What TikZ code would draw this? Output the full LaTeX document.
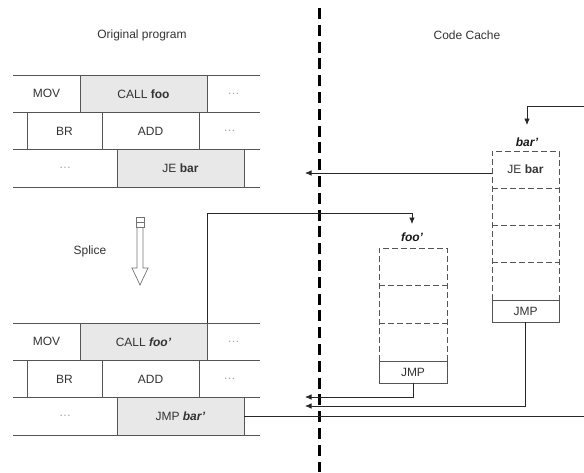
\documentclass[tikz,border=0pt]{standalone}
\usepackage{fontspec}
\setmainfont{Liberation Sans}
\usetikzlibrary{arrows.meta,calc}
\definecolor{cellgray}{HTML}{E8E8E8}
\definecolor{ln}{HTML}{555555}
\definecolor{tx}{HTML}{333333}
\definecolor{dots}{HTML}{A0A0A0}
\newcommand\progtable[4]{%
  % #1 top y, #2 prefix, #3 call text, #4 jump text
  \node[cell,minimum width=67pt,minimum height=37.5pt] (#2mov) at (13,#1) {MOV};
  \node[cell,fill=cellgray,minimum width=127pt,minimum height=37.5pt] (#2call) at (80,#1) {#3};
  \node[cell,minimum width=53pt,minimum height=37.5pt,text=dots] (#2d1) at (207,#1) {…};
  \node[cell,minimum width=14pt,minimum height=37pt] (#2e1) at (13,{#1+37.5}) {};
  \node[cell,minimum width=75pt,minimum height=37pt] (#2br) at (27,{#1+37.5}) {BR};
  \node[cell,minimum width=97pt,minimum height=37pt] (#2add) at (102,{#1+37.5}) {ADD};
  \node[cell,minimum width=61pt,minimum height=37pt,text=dots] (#2d2) at (199,{#1+37.5}) {…};
  \node[cell,minimum width=104pt,minimum height=37.5pt,text=dots] (#2d3) at (13,{#1+74.5}) {…};
  \node[cell,fill=cellgray,minimum width=127pt,minimum height=37.5pt] (#2je) at (117,{#1+74.5}) {#4};
  \node[cell,minimum width=16pt,minimum height=37.5pt] (#2e3) at (244,{#1+74.5}) {};
  \draw[tl] (#2mov.north west) -- (#2d1.north east);
  \draw[tl] (#2mov.south west) -- (#2d1.south east);
  \draw[tl] (#2e1.south west) -- (#2d2.south east);
  \draw[tl] (#2d3.south west) -- (#2e3.south east);
  \draw[tl] (#2call.north west) -- (#2call.south west);
  \draw[tl] (#2call.north east) -- (#2call.south east);
  \draw[tl] (#2br.north west) -- (#2br.south west);
  \draw[tl] (#2add.north west) -- (#2add.south west);
  \draw[tl] (#2d2.north west) -- (#2d2.south west);
  \draw[tl] (#2je.north west) -- (#2je.south west);
  \draw[tl] (#2je.north east) -- (#2je.south east);
}
\begin{document}
\begin{tikzpicture}[x=1pt,y=-1pt,
  font=\fontsize{12}{14}\selectfont,
  cell/.style={inner sep=0pt,outer sep=0pt,text=tx,anchor=north west},
  tl/.style={draw=ln,line width=0.8pt},
  dsh/.style={draw=ln,line width=0.8pt,dash pattern=on 6pt off 3pt},
  conn/.style={draw=black!85,line width=0.8pt},
  arr/.style={conn,-{Latex[length=6.5pt,width=5.5pt]}},
  lbl/.style={font=\fontsize{12}{14}\selectfont\bfseries\itshape,text=black!90,inner sep=0pt}]
\useasboundingbox (0,0) rectangle (584,472);

% titles
\node[text=tx] (t1) at (142,35) {Original program};
\node[text=tx] (t2) at (467,35) {Code Cache};

% divider
\draw[line width=3pt,dash pattern=on 11pt off 5.8pt] (319,8) -- (319,472);

% tables
\progtable{75}{a}{CALL \textbf{foo}}{JE \textbf{bar}}
\progtable{323}{b}{CALL \textbf{\textit{foo’}}}{JMP \textbf{\textit{bar’}}}

% splice arrow
\node[text=tx] (splice) at (90,251) {Splice};
\draw[draw=black!55,line width=0.7pt] (136,217) rectangle (144,227);
\draw[draw=black!55,line width=0.7pt] (136,222) -- (144,222);
\draw[draw=black!55,line width=0.7pt,line join=miter] (137,227) -- (137,268) -- (132,268) -- (140,285) -- (148,268) -- (143,268) -- (143,227);

% bar' block
\node[lbl] (barl) at (527,142) {bar’};
\node[cell,minimum width=67pt,minimum height=37pt] (bJE) at (492,151) {JE \textbf{bar}};
\node[cell,minimum width=67pt,minimum height=37pt] (b2) at (492,188) {};
\node[cell,minimum width=67pt,minimum height=37pt] (b3) at (492,225) {};
\node[cell,minimum width=67pt,minimum height=38pt] (b4) at (492,262) {};
\node[cell,draw=ln,line width=0.8pt,minimum width=67pt,minimum height=22pt] (bJ) at (492,300) {JMP};
\draw[dsh] (bJ.north west) -- (bJE.north west) -- (bJE.north east) -- (bJ.north east);
\draw[dsh] (bJE.south west) -- (bJE.south east);
\draw[dsh] (b2.south west) -- (b2.south east);
\draw[dsh] (b3.south west) -- (b3.south east);

% foo' block
\node[lbl] (fool) at (412,237) {foo’};
\node[cell,minimum width=68pt,minimum height=37pt] (f1) at (379,248) {};
\node[cell,minimum width=68pt,minimum height=38pt] (f2) at (379,285) {};
\node[cell,minimum width=68pt,minimum height=38pt] (f3) at (379,323) {};
\node[cell,draw=ln,line width=0.8pt,minimum width=68pt,minimum height=22pt] (fJ) at (379,361) {JMP};
\draw[dsh] (fJ.north west) -- (f1.north west) -- (f1.north east) -- (fJ.north east);
\draw[dsh] (f1.south west) -- (f1.south east);
\draw[dsh] (f2.south west) -- (f2.south east);

% coordinates
\coordinate (o1) at (305,173);
\coordinate (o2) at (305,397);
\coordinate (o3) at (305,406);
\coordinate (fooin) at (412,224);
\coordinate (barin) at (527,125);
\coordinate (rx) at (590,0);

% connectors
\draw[arr] (bJE.west |- o1) -- (o1);
\draw[arr] (bcall.north east) -- (bcall.north east |- 0,213) -| (fooin);
\draw[arr] (fJ.south) -- (fJ.south |- o2) -- (o2);
\draw[arr] (bJ.south) -- (bJ.south |- o3) -- (o3);
\draw[arr] (bje.east) -- (bje.east -| rx) |- (590,106) -| (barin);
\end{tikzpicture}
\end{document}
